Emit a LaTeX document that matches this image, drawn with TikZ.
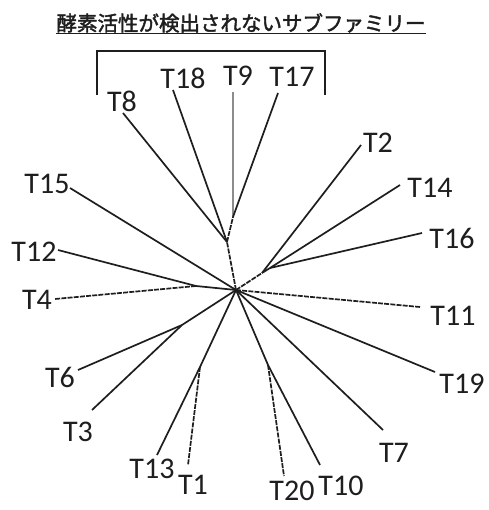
\documentclass[tikz,border=0pt]{standalone}
\usepackage{fontspec}
\setmainfont{Carlito}
\newfontfamily\cjk[FakeBold=2]{Noto Sans CJK JP}
\definecolor{ink}{RGB}{30,30,30}
\begin{document}
\begin{tikzpicture}[x=1pt,y=-1pt,
 br/.style={line width=1.7pt, draw=ink},
 dbr/.style={br, dash pattern=on 5pt off 1.2pt},
 gbr/.style={line width=1.5pt, draw=black!45},
 lab/.style={font=\fontsize{30}{30}\selectfont, inner sep=0pt, text=ink},
]
\useasboundingbox (0,0) rectangle (488,510);
\fill[white] (0,0) rectangle (488,510);
% title
\node[font=\cjk\fontsize{20.5}{20.5}\selectfont, text=ink, inner sep=0pt] (title) at (241,23) {酵素活性が検出されないサブファミリー};
\draw[line width=1.6pt, draw=ink] (title.south west |- 0,33.5) coordinate (ul1) -- (title.south east |- 0,33.5) coordinate (ul2);
% bracket
\coordinate (bl) at (97,95); \coordinate (br1) at (325,95);
\draw[line width=1.6pt, draw=ink] (bl) -- (97,51) -- (325,51) -- (br1);
% internal nodes
\coordinate (C) at (236,290);
\coordinate (A) at (227,242);
\coordinate (B) at (233,217);
\coordinate (D) at (196,286);
\coordinate (E) at (262,273);
\coordinate (F) at (270,268);
\coordinate (H) at (268,365);
\coordinate (I) at (182,325);
\coordinate (J) at (200,367);
% leaf ends
\coordinate (e8) at (123,113);
\coordinate (e18) at (173,90);
\coordinate (e9) at (233,92);
\coordinate (e17) at (278,93);
\coordinate (e15) at (70,188);
\coordinate (e12) at (58,250);
\coordinate (e4) at (55,299);
\coordinate (e2) at (361,145);
\coordinate (e14) at (400,185);
\coordinate (e16) at (422,233);
\coordinate (e11) at (420,307);
\coordinate (e19) at (435,372);
\coordinate (e7) at (383,430);
\coordinate (e10) at (320,465);
\coordinate (e20) at (284,476);
\coordinate (e6) at (78,370);
\coordinate (e3) at (92,410);
\coordinate (e13) at (157,455);
\coordinate (e1) at (188,465);
% labels
\node[lab] (T8) at (122,101) {T8};
\node[lab] (T18) at (183,78) {T18};
\node[lab] (T9) at (238,76) {T9};
\node[lab] (T17) at (292,77) {T17};
\node[lab] (T15) at (47,184) {T15};
\node[lab] (T12) at (34,252) {T12};
\node[lab] (T4) at (37,300) {T4};
\node[lab] (T2) at (378,143) {T2};
\node[lab] (T14) at (430,188) {T14};
\node[lab] (T16) at (452,238) {T16};
\node[lab] (T11) at (453,316) {T11};
\node[lab] (T19) at (462,384) {T19};
\node[lab] (T7) at (394,453) {T7};
\node[lab] (T10) at (341,486) {T10};
\node[lab] (T20) at (292,491) {T20};
\node[lab] (T6) at (60,377) {T6};
\node[lab] (T3) at (78,432) {T3};
\node[lab] (T13) at (152,469) {T13};
\node[lab] (T1) at (193,485) {T1};
% branches
\draw[dbr] (C) -- (A);
\draw[dbr] (A) -- (B);
\draw[br] (A) -- (e8);
\draw[br] (A) -- (e18);
\draw[gbr] (B) -- (e9);
\draw[br] (B) -- (e17);
\draw[br] (C) -- (e15);
\draw[br] (C) -- (D);
\draw[br] (D) -- (e12);
\draw[dbr] (D) -- (e4);
\draw[dbr] (C) -- (E);
\draw[br] (E) -- (e2);
\draw[br] (E) -- (F);
\draw[br] (F) -- (e14);
\draw[br] (F) -- (e16);
\draw[dbr] (C) -- (e11);
\draw[br] (C) -- (e19);
\draw[br] (C) -- (e7);
\draw[br] (C) -- (H);
\draw[br] (H) -- (e10);
\draw[dbr] (H) -- (e20);
\draw[br] (C) -- (I);
\draw[br] (I) -- (e6);
\draw[br] (I) -- (e3);
\draw[br] (C) -- (J);
\draw[br] (J) -- (e13);
\draw[dbr] (J) -- (e1);
\end{tikzpicture}
\end{document}
